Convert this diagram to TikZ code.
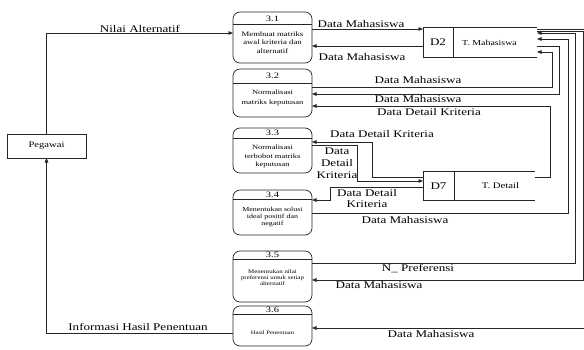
\documentclass[tikz,border=0pt]{standalone}
\usepackage{fontspec}
\setmainfont[FakeStretch=1.28]{Liberation Serif}
\usetikzlibrary{arrows.meta}
\begin{document}
\begin{tikzpicture}[x=1pt,y=-1pt,
  every node/.style={inner sep=0pt, outer sep=0pt},
  ln/.style={line width=0.7pt, draw=black!85},
  arr/.style={ln, -{Triangle[length=4.5pt,width=3.6pt]}},
  lbl/.style={font=\fontsize{10.2}{11.5}\selectfont, anchor=base, align=center},
  mlbl/.style={font=\fontsize{10.2}{11.8}\selectfont, anchor=center, align=center},
  proc/.style={ln, rounded corners=7pt, minimum width=79pt},
  ttl/.style={font=\fontsize{8.2}{9}\selectfont},
  ptx/.style={align=center},
  store/.style={font=\fontsize{10.2}{12}\selectfont}
]
\useasboundingbox (0,0) rectangle (584,349);

% external entity
\node[ln, draw, minimum width=79pt, minimum height=24pt, font=\fontsize{8.3}{10}\selectfont] (peg) at (46.5,146) {Pegawai};

% processes
\node[proc, draw, minimum height=51pt] (p1) at (272.5,37.5) {};
\node[proc, draw, minimum height=48pt] (p2) at (272.5,93) {};
\node[proc, draw, minimum height=45pt] (p3) at (272.5,150.5) {};
\node[proc, draw, minimum height=45pt] (p4) at (272.5,212.5) {};
\node[proc, draw, minimum height=51pt] (p5) at (272.5,276.5) {};
\node[proc, draw, minimum height=40pt] (p6) at (272.5,326) {};

\draw[ln] (p1.west |- 0,24) -- (p1.east |- 0,24);
\draw[ln] (p2.west |- 0,83) -- (p2.east |- 0,83);
\draw[ln] (p3.west |- 0,138) -- (p3.east |- 0,138);
\draw[ln] (p4.west |- 0,199) -- (p4.east |- 0,199);
\draw[ln] (p5.west |- 0,259) -- (p5.east |- 0,259);
\draw[ln] (p6.west |- 0,314) -- (p6.east |- 0,314);

\node[ttl] (t1) at (272.5,18.5) {3.1};
\node[ttl] (t2) at (272.5,76) {3.2};
\node[ttl] (t3) at (272.5,133) {3.3};
\node[ttl] (t4) at (272.5,194.5) {3.4};
\node[ttl] (t5) at (272.5,255) {3.5};
\node[ttl] (t6) at (272.5,310) {3.6};

\node[ptx, font=\fontsize{6.8}{8.4}\selectfont] (x1) at (272.5,42.5) {Membuat matriks\\awal kriteria dan\\alternatif};
\node[ptx, font=\fontsize{6.6}{9.5}\selectfont] (x2) at (272.5,98) {Normalisasi\\matriks keputusan};
\node[ptx, font=\fontsize{6.6}{8.4}\selectfont] (x3) at (272.5,156.5) {Normalisasi\\terbobot matriks\\keputusan};
\node[ptx, font=\fontsize{6.2}{7.2}\selectfont] (x4) at (272.5,217) {Menentukan solusi\\ideal positif dan\\negatif};
\node[ptx, font=\fontsize{5.4}{5.8}\selectfont] (x5) at (272.5,277.5) {Menentukan nilai\\preferensi untuk setiap\\alternatif};
\node[ptx, font=\fontsize{5.2}{6}\selectfont] (x6) at (272.5,333) {Hasil Penentuan};

% data stores
\node[minimum width=114pt, minimum height=30pt] (d2) at (480,42) {};
\draw[ln] (d2.north east) -- (d2.north west) -- (d2.south west) -- (d2.south east);
\draw[ln] (d2.north -| 453,0) -- (d2.south -| 453,0);
\node[store] (d2id) at (438,42.5) {D2};
\node[store, font=\fontsize{7.7}{9}\selectfont] (d2nm) at (489.5,42.5) {T. Mahasiswa};

\node[minimum width=112pt, minimum height=29pt] (d7) at (479,185.5) {};
\draw[ln] (d7.north east) -- (d7.north west) -- (d7.south west) -- (d7.south east);
\draw[ln] (d7.north -| 454,0) -- (d7.south -| 454,0);
\node[store] (d7id) at (438.5,186) {D7};
\node[store, font=\fontsize{8.4}{10}\selectfont] (d7nm) at (500.5,186) {T. Detail};

% Pegawai flows
\draw[arr] (peg.north) |- (p1.west |- 0,33);
\node[lbl] (l0) at (140,32) {Nilai Alternatif};
\draw[arr] (p6.west |- 0,333) -| (peg.south);
\node[lbl] (l13) at (138,330.5) {Informasi Hasil Penentuan};

% 3.1 <-> D2
\draw[arr] (p1.east |- 0,29) -- (d2.west |- 0,29);
\node[lbl] (l1) at (361,27.5) {Data Mahasiswa};
\draw[arr] (d2.west |- 0,46) -- (p1.east |- 0,46);
\node[lbl] (l2) at (362,60) {Data Mahasiswa};

% 3.2
\draw[arr] (p2.east |- 0,87) -- (552,87) -- (552,52) -- (d2.east |- 0,52);
\node[lbl] (l3) at (418,83.5) {Data Mahasiswa};
\draw[arr] (d2.east |- 0,46) -- (559,46) -- (559,94) -- (p2.east |- 0,94);
\node[lbl] (l4) at (418,102) {Data Mahasiswa};
\draw[arr] (d7.east |- 0,177) -- (550,177) -- (550,106) -- (p2.east |- 0,106);
\node[lbl] (l5) at (429,115) {Data Detail Kriteria};

% 3.3 <-> D7
\draw[arr] (d7.west |- 0,177) -- (372,177) -- (372,142) -- (p3.east |- 0,142);
\node[lbl] (l6) at (382,137) {Data Detail Kriteria};
\draw[arr] (p3.east |- 0,145) -- (357,145) -- (357,181) -- (d7.west |- 0,181);
\node[mlbl] (l7) at (337,163.5) {Data\\Detail\\Kriteria};

% 3.4
\draw[arr] (d7.west |- 0,187) -- (330,187) -- (330,200) -- (p4.east |- 0,200);
\node[mlbl] (l8) at (367,198.5) {Data Detail\\Kriteria};
\draw[arr] (p4.east |- 0,213) -- (568,213) -- (568,39) -- (d2.east |- 0,39);
\node[lbl] (l9) at (405,223) {Data Mahasiswa};

% 3.5
\draw[arr] (p5.east |- 0,263) -- (575,263) -- (575,33) -- (d2.east |- 0,33);
\node[lbl] (l10) at (418,271) {N\_ Preferensi};
\draw[arr] (d2.east |- 0,31) -- (583,31) -- (583,280) -- (p5.east |- 0,280);
\node[lbl] (l11) at (379,288) {Data Mahasiswa};

% 3.6
\draw[arr] (d2.east |- 0,29) -- (588,29) -- (588,328) -- (p6.east |- 0,328);
\node[lbl] (l12) at (431,337) {Data Mahasiswa};
\end{tikzpicture}
\end{document}
